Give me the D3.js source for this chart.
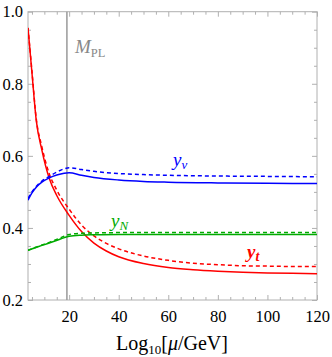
<!DOCTYPE html>
<html><head><meta charset="utf-8">
<script src="https://cdn.jsdelivr.net/npm/d3@7"></script>
<style>body{margin:0;background:#fff}</style>
</head><body>
<svg id="c" width="332" height="357"></svg>
<script>
const xTicks = [20, 40, 60, 80, 100, 120];
const yTicks = [0.2, 0.4, 0.6, 0.8, 1.0];
const mPL = 19.1;

const ytX     = [3.4, 5, 6.7, 9, 12, 15, 20, 25, 30, 35, 40, 50, 60, 70, 80, 90, 100, 110, 120];
const ytSolid = [0.955, 0.83, 0.70, 0.616, 0.537, 0.49, 0.435, 0.39, 0.358, 0.336, 0.32, 0.301, 0.29, 0.284, 0.28, 0.277, 0.275, 0.274, 0.273];
const ytDash  = [0.955, 0.835, 0.705, 0.625, 0.55, 0.505, 0.452, 0.408, 0.378, 0.357, 0.342, 0.322, 0.31, 0.302, 0.298, 0.295, 0.294, 0.293, 0.293];

const ynuX     = [3.4, 5, 7, 9, 12, 15, 18, 20, 25, 30, 40, 50, 60, 80, 100, 120];
const ynuSolid = [0.477, 0.497, 0.515, 0.527, 0.539, 0.547, 0.552, 0.553, 0.546, 0.540, 0.533, 0.529, 0.527, 0.525, 0.524, 0.523];
const ynuDash  = [0.482, 0.50, 0.517, 0.53, 0.543, 0.555, 0.564, 0.567, 0.562, 0.557, 0.551, 0.548, 0.546, 0.544, 0.543, 0.542];

const yNX     = [3.4, 8, 12, 16, 20, 25, 30, 40, 60, 120];
const yNSolid = [0.338, 0.349, 0.358, 0.368, 0.377, 0.380, 0.381, 0.382, 0.382, 0.382];
const yNDash  = [0.338, 0.350, 0.360, 0.371, 0.382, 0.385, 0.386, 0.387, 0.387, 0.387];

const svg = d3.select("#c");
const L = 28, R = 317, T = 11.7, B = 300;
const x = d3.scaleLinear().domain([3.4, 120]).range([L, R]);
const y = d3.scaleLinear().domain([0.2, 1.0]).range([B, T]);
const frame = "#b0b0b0";
const font = "'Liberation Serif', 'DejaVu Serif', serif";

const xMinor = d3.range(5, 121, 5).filter(v => v % 20 !== 0);
const yMinor = d3.range(0.2, 1.0001, 0.05).map(v => +v.toFixed(2)).filter(v => Math.round(v * 100) % 20 !== 0);

function axisTicks(axisGen, tr) {
  const g = svg.append("g").attr("transform", tr).call(axisGen);
  g.select(".domain").remove();
  g.selectAll("line").attr("stroke", frame);
  g.selectAll("text").attr("fill", "#000").style("font-family", font).style("font-size", "16.5px");
  return g;
}
// bottom
axisTicks(d3.axisBottom(x).tickValues(xTicks).tickSize(-5).tickPadding(10).tickFormat(d3.format("d")), `translate(0,${B})`);
axisTicks(d3.axisBottom(x).tickValues(xMinor).tickSize(-3).tickFormat(""), `translate(0,${B})`);
// top
axisTicks(d3.axisTop(x).tickValues(xTicks).tickSize(-5).tickFormat(""), `translate(0,${T})`);
axisTicks(d3.axisTop(x).tickValues(xMinor).tickSize(-3).tickFormat(""), `translate(0,${T})`);
// left
axisTicks(d3.axisLeft(y).tickValues(yTicks).tickSize(-5).tickPadding(5).tickFormat(d3.format(".1f")), `translate(${L},0)`);
axisTicks(d3.axisLeft(y).tickValues(yMinor).tickSize(-3).tickFormat(""), `translate(${L},0)`);
// right
axisTicks(d3.axisRight(y).tickValues(yTicks).tickSize(-5).tickFormat(""), `translate(${R},0)`);
axisTicks(d3.axisRight(y).tickValues(yMinor).tickSize(-3).tickFormat(""), `translate(${R},0)`);

svg.append("rect").attr("x", L).attr("y", T).attr("width", R - L).attr("height", B - T)
  .attr("fill", "none").attr("stroke", frame).attr("stroke-width", 1);

// M_PL line
svg.append("line").attr("x1", x(mPL)).attr("x2", x(mPL)).attr("y1", T).attr("y2", B)
  .attr("stroke", "#999").attr("stroke-width", 1.5);

svg.append("clipPath").attr("id", "clp").append("rect")
  .attr("x", L).attr("y", T).attr("width", R - L).attr("height", B - T);

const line = d3.line().x(d => x(d[0])).y(d => y(d[1])).curve(d3.curveMonotoneX);
function draw(xs, ys, color, dash) {
  svg.append("path").datum(xs.map((v, i) => [v, ys[i]]))
    .attr("d", line).attr("fill", "none").attr("stroke", color)
    .attr("stroke-width", 1.5).attr("clip-path", "url(#clp)")
    .attr("stroke-dasharray", dash ? "4,3" : null);
}
const red = "#ff0000", blue = "#0000ff", green = "#00aa00";
draw(ytX, ytDash, red, true);
draw(ytX, ytSolid, red, false);
draw(ynuX, ynuDash, blue, true);
draw(ynuX, ynuSolid, blue, false);
draw(yNX, yNDash, green, true);
draw(yNX, yNSolid, green, false);

// labels
const mt = svg.append("text").attr("x", 75).attr("y", 53).attr("fill", "#888")
  .style("font-family", font).style("font-size", "19px");
mt.append("tspan").style("font-style", "italic").text("M");
mt.append("tspan").attr("dy", 3.5).style("font-size", "12.5px").text("PL");

const t1 = svg.append("text").attr("x", 173).attr("y", 166).attr("fill", blue)
  .style("font-family", font).style("font-size", "19px").style("font-style", "italic");
t1.append("tspan").text("y");
t1.append("tspan").attr("dy", 3).style("font-size", "13px").text("ν");

const t2 = svg.append("text").attr("x", 111).attr("y", 227).attr("fill", green)
  .style("font-family", font).style("font-size", "19px").style("font-style", "italic");
t2.append("tspan").text("y");
t2.append("tspan").attr("dy", 3).style("font-size", "13px").text("N");

const t3 = svg.append("text").attr("x", 247).attr("y", 258).attr("fill", red)
  .style("font-family", font).style("font-size", "19px").style("font-style", "italic").style("font-weight", "bold");
t3.append("tspan").text("y");
t3.append("tspan").attr("dy", 3).style("font-size", "14px").text("t");

// x title
const xt = svg.append("text").attr("x", 172).attr("y", 350).attr("text-anchor", "middle").attr("fill", "#000")
  .style("font-family", font).style("font-size", "20px");
xt.append("tspan").text("Log");
xt.append("tspan").attr("dy", 4).style("font-size", "13px").text("10");
xt.append("tspan").attr("dy", -4).text("[");
xt.append("tspan").style("font-style", "italic").text("μ");
xt.append("tspan").text("/GeV]");
</script>
</body></html>
